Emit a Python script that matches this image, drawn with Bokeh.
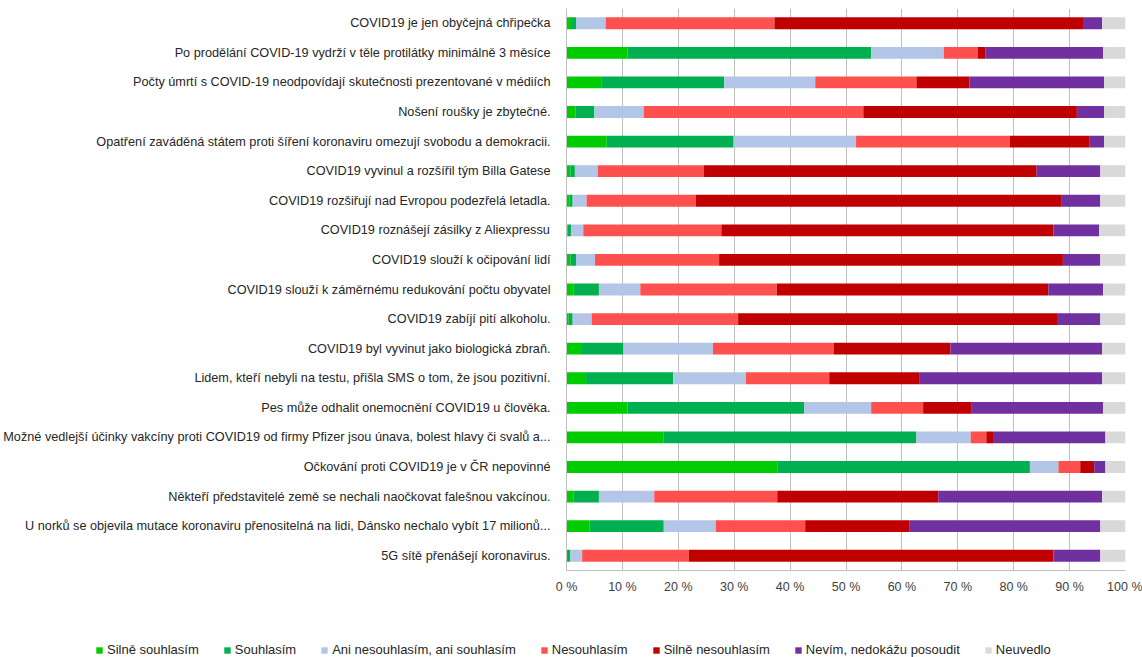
from bokeh.plotting import figure
from bokeh.models import ColumnDataSource, FactorRange, Legend, LegendItem, FixedTicker
from bokeh.layouts import column
from bokeh.embed import file_html
from bokeh.resources import INLINE

categories = [
    "COVID19 je jen obyčejná chřipečka",
    "Po prodělání COVID-19 vydrží v těle protilátky minimálně 3 měsíce",
    "Počty úmrtí s COVID-19 neodpovídají skutečnosti prezentované v médiích",
    "Nošení roušky je zbytečné.",
    "Opatření zaváděná státem proti šíření koronaviru omezují svobodu a demokracii.",
    "COVID19 vyvinul a rozšířil tým Billa Gatese",
    "COVID19 rozšiřují nad Evropou podezřelá letadla.",
    "COVID19 roznášejí zásilky z Aliexpressu",
    "COVID19 slouží k očipování lidí",
    "COVID19 slouží k záměrnému redukování počtu obyvatel",
    "COVID19 zabíjí pití alkoholu.",
    "COVID19 byl vyvinut jako biologická zbraň.",
    "Lidem, kteří nebyli na testu, přišla SMS o tom, že jsou pozitivní.",
    "Pes může odhalit onemocnění COVID19 u člověka.",
    "Možné vedlejší účinky vakcíny proti COVID19 od firmy Pfizer jsou únava, bolest hlavy či svalů a...",
    "Očkování proti COVID19 je v ČR nepovinné",
    "Někteří představitelé země se nechali naočkovat falešnou vakcínou.",
    "U norků se objevila mutace koronaviru přenositelná na lidi, Dánsko nechalo vybít 17 milionů...",
    "5G sítě přenášejí koronavirus.",
]

series_names = ["Silně souhlasím", "Souhlasím", "Ani nesouhlasím, ani souhlasím",
                "Nesouhlasím", "Silně nesouhlasím", "Nevím, nedokážu posoudit", "Neuvedlo"]

silne_souhlasim = [0.8, 10.9, 6.2, 1.6, 7.2, 0.7, 0.5, 0.2, 0.7, 1.3, 0.4, 2.6, 3.5, 10.9, 17.4, 37.7, 1.3, 4.1, 0.1]
souhlasim = [0.9, 43.6, 22.0, 3.4, 22.7, 0.8, 0.6, 0.6, 1.0, 4.5, 0.7, 7.6, 15.6, 31.6, 45.2, 45.2, 4.5, 13.3, 0.6]
ani = [5.3, 13.0, 16.3, 8.8, 21.9, 4.1, 2.5, 2.2, 3.4, 7.4, 3.4, 16.0, 13.0, 12.0, 9.7, 5.1, 9.9, 9.3, 2.1]
nesouhlasim = [30.2, 6.1, 18.1, 39.3, 27.5, 19.0, 19.5, 24.7, 22.2, 24.4, 26.2, 21.6, 14.9, 9.3, 2.8, 3.9, 22.0, 16.0, 19.1]
silne_nesouhlasim = [55.2, 1.3, 9.5, 38.2, 14.3, 59.5, 65.5, 59.4, 61.5, 48.6, 57.2, 20.9, 16.2, 8.7, 1.2, 2.5, 28.8, 18.6, 65.2]
nevim = [3.4, 21.1, 24.1, 4.9, 2.6, 11.4, 6.9, 8.2, 6.7, 9.8, 7.6, 27.1, 32.6, 23.5, 20.1, 2.0, 29.3, 34.2, 8.4]
neuvedlo = [4.2, 4.0, 3.8, 3.8, 3.8, 4.5, 4.5, 4.7, 4.5, 4.0, 4.5, 4.2, 4.2, 4.0, 3.6, 3.6, 4.2, 4.5, 4.5]

tick_values = [0, 10, 20, 30, 40, 50, 60, 70, 80, 90, 100]
tick_labels = ["0 %", "10 %", "20 %", "30 %", "40 %", "50 %", "60 %", "70 %", "80 %", "90 %", "100 %"]

colors = ["#00CC00", "#00B050", "#B4C6E7", "#FF5050", "#C00000", "#7030A0", "#D9D9D9"]
keys = ["s1", "s2", "s3", "s4", "s5", "s6", "s7"]

source = ColumnDataSource(dict(
    cat=categories, s1=silne_souhlasim, s2=souhlasim, s3=ani, s4=nesouhlasim,
    s5=silne_nesouhlasim, s6=nevim, s7=neuvedlo))

FONT = "Liberation Sans"

p = figure(width=1142, height=622, output_backend="svg", toolbar_location=None,
           y_range=FactorRange(factors=list(reversed(categories))),
           x_range=(0, 100))
p.frame_align = False
p.min_border_left = 565
p.min_border_right = 17
p.min_border_top = 8
p.min_border_bottom = 52
p.outline_line_color = None

renderers = p.hbar_stack(keys, y="cat", height=0.4, color=colors, line_color=None, source=source)

p.xaxis.ticker = FixedTicker(ticks=tick_values)
p.xaxis.major_label_overrides = {v: l for v, l in zip(tick_values, tick_labels)}
p.xaxis.axis_line_color = "#BFBFBF"
p.xaxis.major_tick_line_color = "#BFBFBF"
p.xaxis.major_tick_out = 0
p.xaxis.major_tick_in = 0
p.xaxis.minor_tick_line_color = None
p.xaxis.major_label_text_font = FONT
p.xaxis.major_label_text_font_size = "12.5px"
p.xaxis.major_label_text_color = "#404040"
p.xaxis.major_label_standoff = 9

p.yaxis.axis_line_color = "#BFBFBF"
p.yaxis.major_tick_line_color = None
p.yaxis.minor_tick_line_color = None
p.yaxis.major_label_text_font = FONT
p.yaxis.major_label_text_font_size = "12.7px"
p.yaxis.major_label_text_color = "#262626"
p.yaxis.major_label_standoff = 10

p.xgrid.grid_line_color = "#BFBFBF"
p.ygrid.grid_line_color = None

# legend in a strip figure below; legend proxies (zero-height bars, out of view)
lg = figure(width=1142, height=35, output_backend="svg", toolbar_location=None,
            x_range=(1000, 1100), y_range=FactorRange(factors=list(reversed(categories))))
lg.frame_align = False
lg.min_border_left = 0
lg.min_border_right = 0
lg.min_border_top = 0
lg.min_border_bottom = 0
lg.outline_line_color = None
lg.axis.visible = False
lg.grid.visible = False
lg_renderers = lg.hbar_stack(keys, y="cat", height=0, color=colors, line_color=None, source=source)

items = [LegendItem(label=n, renderers=[r]) for n, r in zip(series_names, lg_renderers)]
legend = Legend(items=items, orientation="horizontal", location=(95, 0),
                glyph_width=8, glyph_height=8, spacing=24, label_standoff=4,
                label_text_font=FONT, label_text_font_size="13px", label_text_color="#262626",
                border_line_color=None, background_fill_alpha=0, margin=0, padding=0)
legend.label_height = 12
lg.add_layout(legend, "center")

layout = column(p, lg, spacing=0)
open("out.html", "w").write(file_html(layout, INLINE))
